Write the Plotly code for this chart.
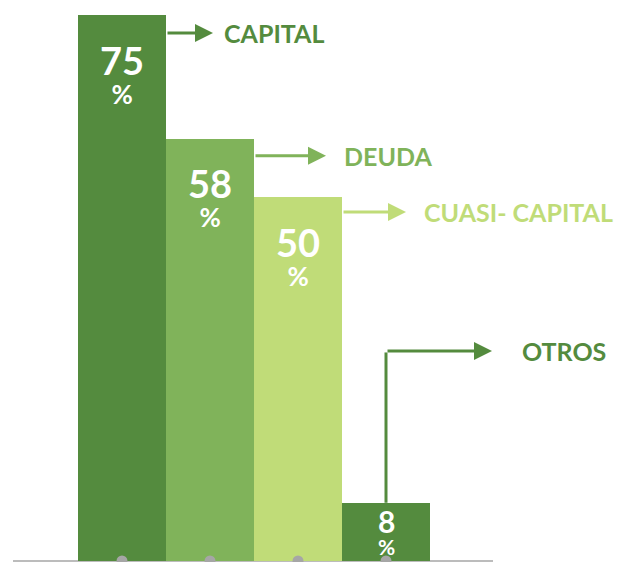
import plotly.graph_objects as go

# Distribution of instruments
categories = ["CAPITAL", "DEUDA", "CUASI- CAPITAL", "OTROS"]
values = [75, 58, 50, 8]

DARK = "#548B3E"
MID = "#80B35A"
LIGHT = "#C0DC78"
GREY = "#A6A6A6"
bar_colors = [DARK, MID, LIGHT, DARK]
FONT = "Lato"

W, H = 628, 562
# pixel geometry of the plotting frame
BAR_PX = 88          # width of one bar
X0_PX = 122          # centre of the first bar
BASE_PX = 561        # baseline
PX_PER_UNIT = 546 / 75


def xd(px):
    return (px - X0_PX) / BAR_PX


def yd(py):
    return (BASE_PX - py) / PX_PER_UNIT


xs = list(range(len(values)))

fig = go.Figure()
fig.add_trace(go.Bar(
    x=xs, y=values, width=1.0,
    marker=dict(color=bar_colors, line=dict(width=0)),
    hoverinfo="skip",
))
# small grey dots on the baseline under each bar
fig.add_trace(go.Scatter(
    x=xs, y=[0] * len(xs), mode="markers",
    marker=dict(size=11, color=GREY),
    cliponaxis=False, hoverinfo="skip",
))

annotations = []
shapes = [dict(type="line", xref="x", yref="y", x0=xd(13), x1=xd(493),
               y0=0, y1=0, line=dict(color=GREY, width=1.5), layer="below")]

# arrow offsets below bar top (px), arrow tip x and label x (px)
arrow_drop = [18, 17, 15, None]
tip_px = [213, 326, 406, 492]
label_px = [222, 342, 422, 520]

for i, (cat, v, c) in enumerate(zip(categories, values, bar_colors)):
    top_px = BASE_PX - v * PX_PER_UNIT
    bar_h = v * PX_PER_UNIT
    # value label inside the bar: number over a smaller percent sign
    if bar_h > 100:
        mid_px, base, num_size, pct_size = top_px + 58, 22, 38, 26
    else:
        mid_px, base, num_size, pct_size = top_px + 28, 17, 30, 21
    annotations.append(dict(
        x=i, y=yd(mid_px), xref="x", yref="y",
        text=(f"<span style='font-size:{num_size}px'>{v}</span><br>"
              f"<span style='font-size:{pct_size}px'>%</span>"),
        showarrow=False, xanchor="center", yanchor="middle", align="center",
        font=dict(family=FONT, size=base, color="white", weight="bold")))

    if arrow_drop[i] is not None:
        ay_px = top_px + arrow_drop[i]
        start_x = i + 0.5
    else:
        ay_px = 351
        start_x = i
        shapes.append(dict(type="line", xref="x", yref="y", x0=i, x1=i,
                           y0=v, y1=yd(ay_px) - 0.2, line=dict(color=c, width=3)))
    annotations.append(dict(x=xd(tip_px[i]), y=yd(ay_px), ax=start_x, ay=yd(ay_px),
                            xref="x", yref="y", axref="x", ayref="y", text="",
                            showarrow=True, arrowhead=2, arrowsize=1.2, arrowwidth=3,
                            arrowcolor=c, standoff=0, startstandoff=0))
    annotations.append(dict(x=xd(label_px[i]), y=yd(ay_px), xref="x", yref="y",
                            text=cat, showarrow=False, xanchor="left", yanchor="middle",
                            font=dict(family=FONT, size=25, color=c, weight="bold")))

fig.update_layout(
    width=W, height=H,
    margin=dict(l=0, r=0, t=0, b=0),
    paper_bgcolor="white", plot_bgcolor="white",
    showlegend=False, bargap=0,
    xaxis=dict(range=[xd(0), xd(W)], visible=False, fixedrange=True),
    yaxis=dict(range=[yd(H), yd(0)], visible=False, fixedrange=True),
    annotations=annotations, shapes=shapes,
)

fig.write_html("out.html", config={"displayModeBar": False})
